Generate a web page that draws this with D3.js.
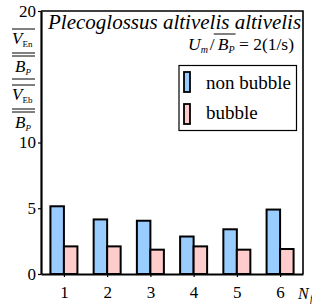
<!DOCTYPE html>
<html>
<head>
<meta charset="utf-8">
<script src="https://cdn.jsdelivr.net/npm/d3@7"></script>
<style>
  body { margin: 0; background: #fff; }
  svg { display: block; }
</style>
</head>
<body>
<script>
const width = 312;
const height = 304;
const margin = {top: 11, left: 41, bottom: 30, right: 9};
const serif = 'Liberation Serif';

const categories = [1, 2, 3, 4, 5, 6];
const nonBubble = [5.15, 4.15, 4.05, 2.85, 3.4, 4.9];
const bubble = [2.1, 2.1, 1.85, 2.1, 1.85, 1.9];
const yTicks = [0, 5, 10, 20];
const seriesNames = ['non bubble', 'bubble'];
const colors = ['#99ccff', '#ffcccc'];

const x = d3.scaleLinear()
  .domain([0.47, 6.53])
  .range([margin.left, width - margin.right]);

const y = d3.scaleLinear()
  .domain([0, 20])
  .range([height - margin.bottom, margin.top]);

const barW = 13.5;

const svg = d3.select('body').append('svg')
  .attr('width', width).attr('height', height)
  .attr('font-family', serif);

// frame (top + right)
svg.append('path')
  .attr('d', `M${x(0.47)},${y(20)}H${x(6.53)}V${y(0)}`)
  .attr('fill', 'none').attr('stroke', '#000').attr('stroke-width', 1.6);

// bars
const rows = categories.map((c, i) => ({c, vals: [nonBubble[i], bubble[i]]}));
const g = svg.append('g');
rows.forEach(r => {
  r.vals.forEach((v, k) => {
    g.append('rect')
      .attr('x', k === 0 ? x(r.c) - barW : x(r.c))
      .attr('y', y(v))
      .attr('width', barW)
      .attr('height', y(0) - y(v))
      .attr('fill', colors[k])
      .attr('stroke', '#000')
      .attr('stroke-width', 2);
  });
});

// axes
const xAxis = d3.axisBottom(x).tickValues(categories).tickFormat(d3.format('d'))
  .tickSize(3).tickSizeOuter(0).tickPadding(9);
svg.append('g')
  .attr('transform', `translate(0, ${y(0)})`)
  .call(xAxis)
  .attr('font-family', serif).attr('font-size', 17)
  .call(a => a.select('.domain').attr('stroke-width', 2.2))
  .call(a => a.selectAll('.tick line').attr('stroke-width', 1.2));

const yAxis = d3.axisLeft(y).tickValues(yTicks).tickSize(3).tickSizeOuter(0).tickPadding(2);
svg.append('g')
  .attr('transform', `translate(${x(0.47)}, 0)`)
  .call(yAxis)
  .attr('font-family', serif).attr('font-size', 17)
  .call(a => a.select('.domain').attr('stroke-width', 2.2))
  .call(a => a.selectAll('.tick line').attr('stroke-width', 1.2))
  .call(a => a.selectAll('.tick text').attr('dy', '0.3em'));

// x axis label N_f (cut at right edge)
svg.append('text').attr('x', 298).attr('y', 299)
  .attr('font-size', 16).attr('font-style', 'italic').text('N');
svg.append('text').attr('x', 310).attr('y', 302)
  .attr('font-size', 10).attr('font-style', 'italic').text('f');

// y label: stacked fraction
const yl = svg.append('g');
function hline(x1, x2, yy) {
  yl.append('line').attr('x1', x1).attr('x2', x2).attr('y1', yy).attr('y2', yy)
    .attr('stroke', '#000').attr('stroke-width', 1);
}
function frac(top, sub, yTop) {
  hline(12, 35, yTop);
  const t = yl.append('text').attr('x', 12).attr('y', yTop + 15).attr('font-size', 17);
  t.append('tspan').attr('font-style', 'italic').text(top);
  t.append('tspan').attr('font-size', 9).attr('dy', 3).text(sub);
  hline(12, 35, yTop + 24);
  hline(12, 35, yTop + 27);
  const b = yl.append('text').attr('x', 15).attr('y', yTop + 43).attr('font-size', 17);
  b.append('tspan').attr('font-style', 'italic').text('B');
  b.append('tspan').attr('font-style', 'italic').attr('font-size', 9).attr('dy', 3).text('P');
}
frac('V', 'En', 29);
hline(12, 35, 79);
frac('V', 'Eb', 85);

// title
svg.append('text').attr('x', 48).attr('y', 29)
  .attr('font-size', 21).attr('font-style', 'italic')
  .text('Plecoglossus altivelis altivelis');

// U_m / B_P = 2(1/s)
const ut = svg.append('text').attr('x', 294).attr('y', 50).attr('font-size', 17.5)
  .attr('text-anchor', 'end');
ut.append('tspan').attr('font-style', 'italic').text('U');
ut.append('tspan').attr('font-style', 'italic').attr('font-size', 10).attr('dy', 3).text('m');
ut.append('tspan').attr('dy', -3).attr('dx', 2).text('/');
ut.append('tspan').attr('font-style', 'italic').attr('dx', 3).text('B');
ut.append('tspan').attr('font-style', 'italic').attr('font-size', 10).attr('dy', 3).text('P');
ut.append('tspan').attr('dy', -3).text(' = 2(1/s)');
const slashBox = ut.node().getExtentOfChar(2);
const pBox = ut.node().getExtentOfChar(4);
svg.append('line')
  .attr('x1', slashBox.x + slashBox.width - 1).attr('x2', pBox.x + pBox.width + 1)
  .attr('y1', 34).attr('y2', 34)
  .attr('stroke', '#000').attr('stroke-width', 1);

// legend
const lg = svg.append('g');
lg.append('rect').attr('x', 179).attr('y', 65.5).attr('width', 117.5).attr('height', 65)
  .attr('fill', '#fff').attr('stroke', '#000').attr('stroke-width', 1.2);
seriesNames.forEach((n, i) => {
  lg.append('rect').attr('x', 184).attr('y', 72 + i * 32).attr('width', 6).attr('height', 20)
    .attr('fill', colors[i]).attr('stroke', '#000').attr('stroke-width', 1.8);
  lg.append('text').attr('x', 206).attr('y', 89 + i * 30).attr('font-size', 19).text(n);
});
</script>
</body>
</html>
